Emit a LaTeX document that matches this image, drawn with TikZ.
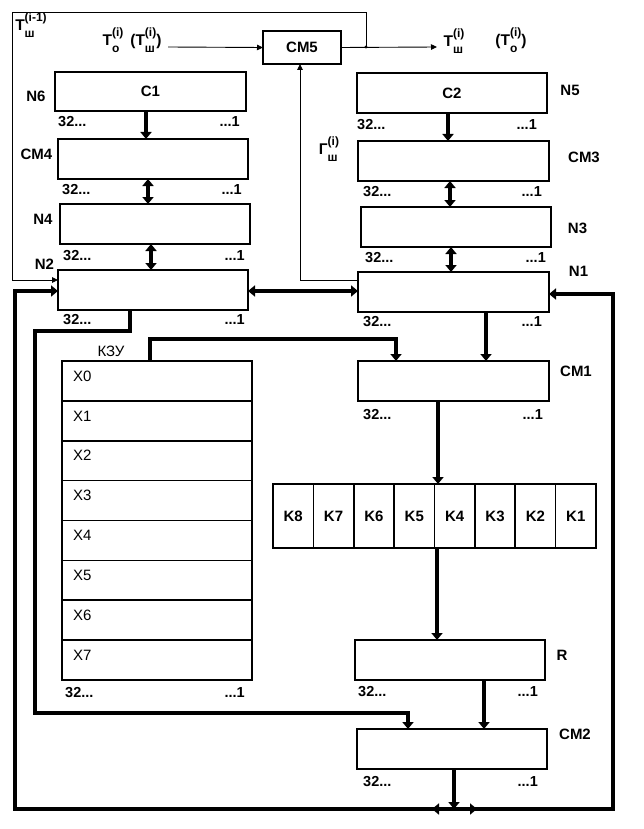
\documentclass[tikz,border=0pt]{standalone}
\usepackage{fontspec}
\setmainfont{Liberation Sans}
\usetikzlibrary{arrows.meta}
\newcommand{\ssb}[3]{#1\rlap{\raisebox{-0.85ex}{\fontsize{12}{12}\selectfont #3}}\raisebox{1.05ex}{\fontsize{12}{12}\selectfont #2}}
\tikzset{
  box/.style={draw, line width=1.6pt, inner sep=0pt, outer sep=0pt, anchor=center,
    font=\fontsize{15}{15}\selectfont\bfseries},
  lbl/.style={inner sep=0pt, font=\fontsize{15}{15}\selectfont\bfseries},
  nlbl/.style={inner sep=0pt, font=\fontsize{14.5}{14.5}\selectfont\bfseries},
  rlbl/.style={inner sep=0pt, font=\fontsize{15}{15}\selectfont},
  slbl/.style={inner sep=0pt, font=\fontsize{15.5}{15.5}\selectfont\bfseries},
  bus/.style={line width=3.6pt},
  busarrow/.style={line width=3.6pt, -{Triangle[width=11pt,length=7pt]}},
  busdarrow/.style={line width=3.6pt, {Triangle[width=11pt,length=7pt]}-{Triangle[width=11pt,length=7pt]}},
  wire/.style={line width=0.9pt},
  wirearrow/.style={line width=0.9pt, -{Triangle[width=5.5pt,length=6pt]}},
}
\begin{document}
\begin{tikzpicture}[x=1pt,y=-1pt]
\useasboundingbox (0,0) rectangle (643,829);

% ---- boxes
\node[box, minimum width=191pt, minimum height=39pt] (C1)  at (150.5,91.5) {C1};
\node[box, minimum width=190pt, minimum height=40pt] (CM4) at (153,159) {};
\node[box, minimum width=190pt, minimum height=40pt] (N4)  at (155,224) {};
\node[box, minimum width=190pt, minimum height=40pt] (N2)  at (153,290) {};
\node[box, minimum width=190pt, minimum height=40pt] (C2)  at (452,93) {C2};
\node[box, minimum width=191pt, minimum height=40pt] (CM3) at (453.5,161) {};
\node[box, minimum width=190pt, minimum height=40pt] (N3)  at (456,227) {};
\node[box, minimum width=191pt, minimum height=40pt] (N1)  at (453.5,292) {};
\node[box, minimum width=191pt, minimum height=40pt] (CM1) at (453.5,381) {};
\node[box, minimum width=190pt, minimum height=40pt] (R)   at (450,660) {};
\node[box, minimum width=190pt, minimum height=40pt] (CM2) at (452,749) {};
\node[box, minimum width=78pt, minimum height=33pt]  (CM5) at (302,47.5) {CM5};

% KZU rows
\foreach \i in {0,...,7}{
  \node[box, minimum width=190pt, minimum height=39.875pt] (X\i) at (157,{361+39.875*(\i+0.5)}) {};
  \node[rlbl, anchor=west] (XL\i) at (73,{361+39.875*\i+15}) {X\i};
}
% K row
\foreach \k [count=\j from 0] in {8,7,6,5,4,3,2,1}{
  \node[box, minimum width=40.375pt, minimum height=64pt] (K\k) at ({273+40.375*(\j+0.5)},516) {K\k};
}

% ---- labels
\node[lbl] (lN6)  at (36,96) {N6};
\node[lbl] (lCM4) at (36.5,154) {CM4};
\node[lbl] (lN4)  at (43,219) {N4};
\node[lbl] (lN2)  at (44.5,264) {N2};
\node[lbl] (lN5)  at (570,90) {N5};
\node[lbl] (lCM3) at (584,157) {CM3};
\node[lbl] (lN3)  at (577.5,228) {N3};
\node[lbl] (lN1)  at (578.5,271) {N1};
\node[lbl] (lCM1) at (576,371) {CM1};
\node[lbl] (lR)   at (562,655) {R};
\node[lbl] (lCM2) at (575,734) {CM2};
\node[rlbl] (lKZU) at (111,351) {КЗУ};

\node[slbl] (tl)   at (31,25) {\ssb{T}{(i-1)}{ш}};
\node[slbl] (tin)  at (132,40) {\ssb{T}{(i)}{o}\hspace{7pt}(\ssb{T}{(i)}{ш})};
\node[slbl] (tout) at (454,41) {\ssb{T}{(i)}{ш}};
\node[slbl] (tout2) at (511,40) {(\ssb{T}{(i)}{o})};
\node[slbl] (gam)  at (329,149) {\ssb{Г}{(i)}{ш}};

% bit-range labels
\foreach \nm/\xl/\xr/\yy in {C1/58/240/122, CM4/62/242/190, N4/63/245/256, N2/63/245/320,
  C2/357/537/125, CM3/363/542/192, N3/365/546/258, N1/363/542/322, CM1/363/543/415,
  R/358/538/692, CM2/363/538/782, KZU/65/245/693}{
  \node[nlbl, anchor=west] (a\nm) at (\xl,\yy) {32...};
  \node[nlbl, anchor=east] (b\nm) at (\xr,\yy) {...1};
}

% ---- thin wires
\coordinate (dot) at (366,47);
\coordinate (in) at (168,47);
\coordinate (out) at (437,47);
\draw[wirearrow] (in) -- (CM5.west);
\draw[wirearrow] (CM5.east) -- (out);
\fill (dot) circle (1.6pt);
\draw[wirearrow] (dot) -- (366,12) -- (12,12) -- (12,280) -- (N2.west |- 0,280);
\draw[wirearrow] (N1.west |- 0,280) -- (300,280) -- (300,0 |- CM5.south);

% ---- vertical buses
\draw[busarrow]  (146,0 |- C1.south)  -- (146,0 |- CM4.north);
\draw[busdarrow] (148,0 |- CM4.south) -- (148,0 |- N4.north);
\draw[busdarrow] (151,0 |- N4.south)  -- (151,0 |- N2.north);
\draw[busarrow]  (448,0 |- C2.south)  -- (448,0 |- CM3.north);
\draw[busdarrow] (450,0 |- CM3.south) -- (450,0 |- N3.north);
\draw[busdarrow] (451,0 |- N3.south)  -- (451,0 |- N1.north);
\draw[busarrow]  (486,0 |- N1.south)  -- (486,0 |- CM1.north);
\draw[busarrow]  (438,0 |- CM1.south) -- (438,0 |- K4.north);
\draw[busarrow]  (437,0 |- K4.south)  -- (437,0 |- R.north);
\draw[busarrow]  (484,0 |- R.south)   -- (484,0 |- CM2.north);

% N2 <-> N1
\draw[busdarrow] (N2.east |- 0,291) -- (N1.west |- 0,291);

% N2 -> CM2
\draw[busarrow] (130,0 |- N2.south) -- (130,331) -- (35,331) -- (35,713) -- (408,713) -- (408,0 |- CM2.north);
% KZU -> CM1
\draw[busarrow] (150,0 |- X0.north) -- (150,339) -- (396,339) -- (396,0 |- CM1.north);

% CM2 output loop
\coordinate (bc) at (454,809);
\draw[busarrow] (CM2.south -| bc) -- (bc);
\draw[busarrow] (bc) -- (432,809);
\draw[busarrow] (bc) -- (477,809);
\draw[busarrow] (434,809) -- (15,809) -- (15,291) -- (N2.west |- 0,291);
\draw[busarrow] (475,809) -- (613,809) -- (613,294) -- (N1.east |- 0,294);
\end{tikzpicture}
\end{document}
